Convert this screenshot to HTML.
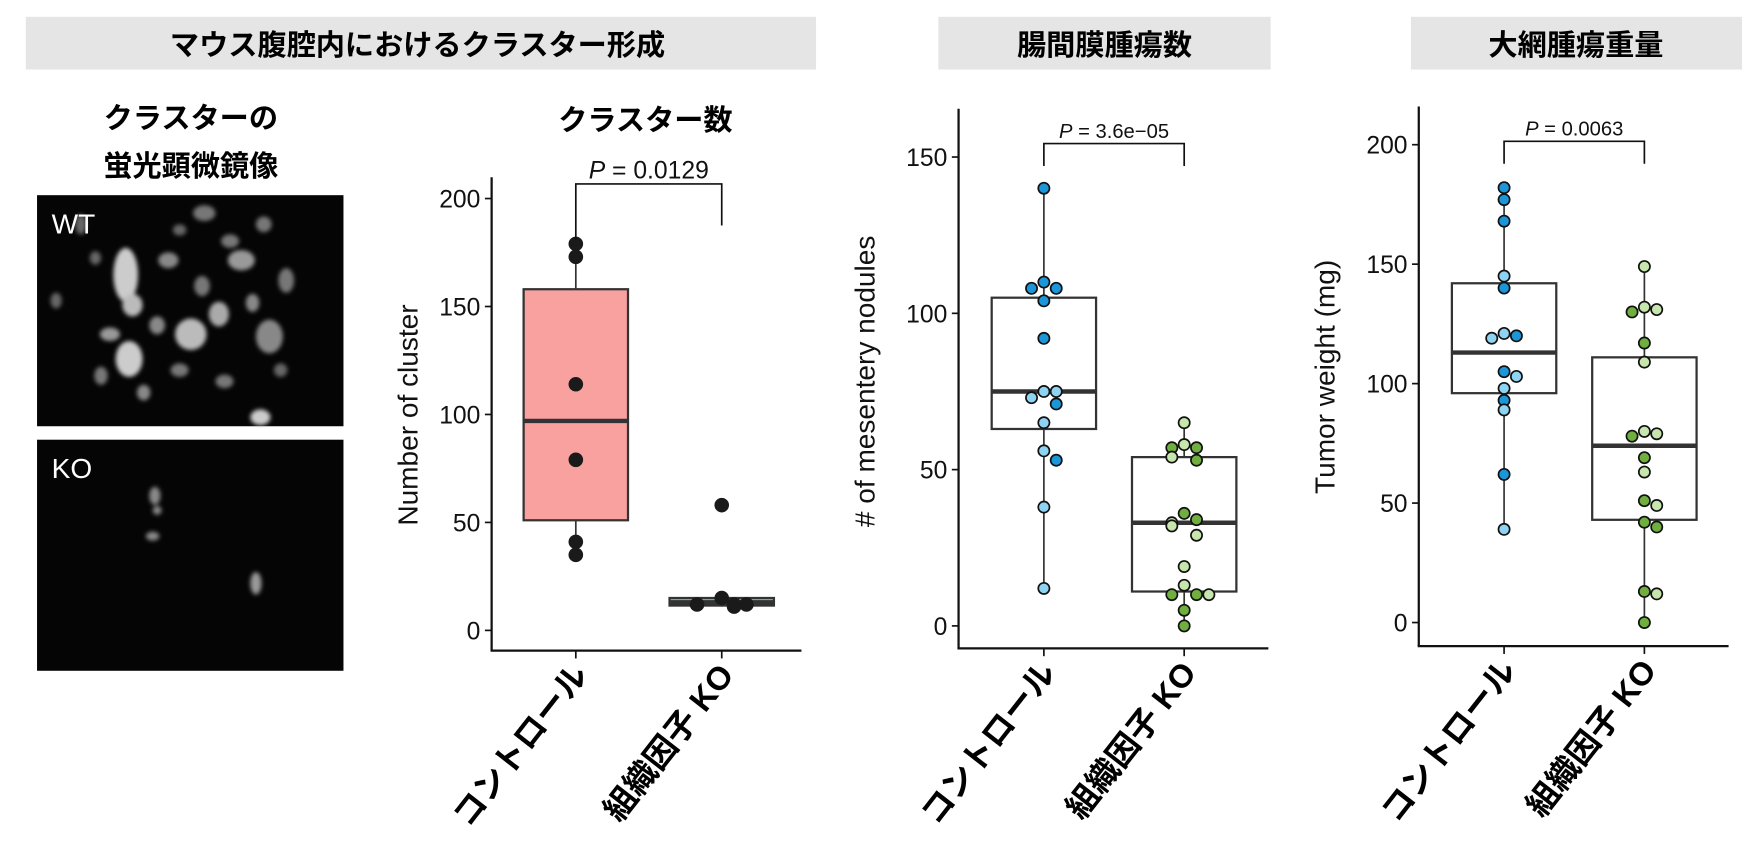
<!DOCTYPE html>
<html><head><meta charset="utf-8"><style>
html,body{margin:0;padding:0;background:#fff;width:1760px;height:848px;overflow:hidden}
svg{display:block}
text{font-family:"Liberation Sans","Noto Sans CJK JP",sans-serif}
.jp{font-family:"Liberation Sans","Noto Sans CJK JP",sans-serif;font-weight:bold}
</style></head><body>
<svg id="fig" width="1760" height="848" viewBox="0 0 1568 756" preserveAspectRatio="none" xmlns="http://www.w3.org/2000/svg">
<defs><filter id="bl"><feGaussianBlur stdDeviation="2"/></filter></defs>
<g><rect x="23" y="15" width="704" height="47" fill="#e5e5e5"/><text class="jp" x="372" y="49" font-size="26" text-anchor="middle">マウス腹腔内におけるクラスター形成</text></g>
<g><rect x="836" y="15" width="296" height="47" fill="#e5e5e5"/><text class="jp" x="984" y="49" font-size="26" text-anchor="middle">腸間膜腫瘍数</text></g>
<g><rect x="1257" y="15" width="295" height="47" fill="#e5e5e5"/><text class="jp" x="1404" y="49" font-size="26" text-anchor="middle">大網腫瘍重量</text></g>
<text class="jp" x="170" y="114" font-size="26" text-anchor="middle">クラスターの</text>
<text class="jp" x="170" y="157" font-size="26" text-anchor="middle">蛍光顕微鏡像</text>
<text class="jp" x="575" y="116" font-size="26" text-anchor="middle">クラスター数</text>
<g><rect x="33" y="174" width="273" height="206" fill="#050505"/>
<g filter="url(#bl)" fill="#aaa">
<ellipse cx="112" cy="245" rx="11" ry="24" fill="#ccc"/><ellipse cx="118" cy="272" rx="9" ry="10" fill="#bbb"/><ellipse cx="170" cy="298" rx="14" ry="14" fill="#bbb"/><ellipse cx="115" cy="320" rx="12" ry="16" fill="#ccc"/><ellipse cx="195" cy="280" rx="9" ry="11"/><ellipse cx="150" cy="232" rx="9" ry="7" fill="#888"/><ellipse cx="215" cy="232" rx="12" ry="9" fill="#999"/><ellipse cx="98" cy="298" rx="9" ry="6" fill="#999"/><ellipse cx="240" cy="300" rx="12" ry="15" fill="#888"/><ellipse cx="232" cy="372" rx="9" ry="7" fill="#ccc"/><ellipse cx="72" cy="200" rx="5" ry="9" fill="#666"/><ellipse cx="182" cy="190" rx="10" ry="7" fill="#777"/><ellipse cx="128" cy="350" rx="6" ry="7" fill="#888"/><ellipse cx="160" cy="330" rx="8" ry="6" fill="#777"/><ellipse cx="255" cy="250" rx="7" ry="11" fill="#777"/><ellipse cx="50" cy="268" rx="5" ry="7" fill="#666"/><ellipse cx="205" cy="215" rx="8" ry="6" fill="#777"/><ellipse cx="140" cy="290" rx="7" ry="8" fill="#888"/><ellipse cx="180" cy="255" rx="7" ry="9" fill="#777"/><ellipse cx="225" cy="270" rx="6" ry="8" fill="#888"/><ellipse cx="90" cy="335" rx="6" ry="8" fill="#777"/><ellipse cx="200" cy="340" rx="8" ry="6" fill="#777"/><ellipse cx="250" cy="330" rx="6" ry="6" fill="#666"/><ellipse cx="160" cy="205" rx="6" ry="5" fill="#666"/><ellipse cx="235" cy="200" rx="7" ry="7" fill="#777"/><ellipse cx="85" cy="230" rx="5" ry="6" fill="#666"/>
</g><text x="46" y="208" font-size="25" fill="#fff">WT</text></g>
<g><rect x="33" y="392" width="273" height="206" fill="#050505"/>
<g filter="url(#bl)" fill="#888"><ellipse cx="138" cy="442" rx="5" ry="8"/><ellipse cx="140" cy="455" rx="4" ry="4"/><ellipse cx="136" cy="478" rx="6" ry="4"/><ellipse cx="228" cy="520" rx="5" ry="10" fill="#999"/></g>
<text x="46" y="426" font-size="25" fill="#fff">KO</text></g>
<g id="charts"></g>
</svg>
<script>
// ---- data ----
const categories = ["コントロール", "組織因子 KO"];
// chart 1: cluster count
const c1Ticks = [0, 50, 100, 150, 200];
const c1Box = [[35, 51, 97, 158, 179], [11, 11.5, 13, 15, 15]];
const c1PtsCtrl = [179, 173, 114, 79, 41, 35];
const c1PtsKO = [58, 15, 12, 11, 12, 12];
// chart 2: mesentery nodules
const c2Ticks = [0, 50, 100, 150];
const c2Box = [[12, 63, 75, 105, 140], [0, 11, 33, 54, 65]];
const c2PtsCtrl = [140, 110, 108, 108, 104, 92, 75, 75, 73, 71, 65, 56, 53, 38, 12];
const c2ShadeCtrl = [1, 1, 1, 1, 1, 1, 0, 0, 0, 1, 0, 0, 1, 0, 0];
const c2PtsKO = [65, 58, 57, 57, 54, 53, 36, 34, 33, 32, 29, 19, 13, 10, 10, 10, 5, 0];
const c2ShadeKO = [0, 0, 1, 1, 0, 1, 1, 1, 0, 0, 0, 0, 0, 1, 1, 0, 1, 1];
// chart 3: tumor weight
const c3Ticks = [0, 50, 100, 150, 200];
const c3Box = [[39, 96, 113, 142, 182], [0, 43, 74, 111, 149]];
const c3PtsCtrl = [182, 177, 168, 145, 140, 121, 120, 119, 105, 103, 98, 93, 89, 62, 39];
const c3ShadeCtrl = [1, 1, 1, 0, 1, 0, 1, 0, 1, 0, 0, 1, 0, 1, 0];
const c3PtsKO = [149, 132, 131, 130, 117, 109, 80, 79, 78, 69, 63, 51, 49, 42, 40, 13, 12, 0];
const c3ShadeKO = [0, 0, 0, 1, 1, 0, 0, 0, 1, 1, 0, 1, 0, 1, 1, 1, 0, 1];

const NS = "http://www.w3.org/2000/svg";
const root = document.getElementById("charts");
function mk(tag, attrs, parent) { const e = document.createElementNS(NS, tag); for (const k in attrs) e.setAttribute(k, attrs[k]); (parent || root).appendChild(e); return e; }

function chart(cfg) {
  const g = mk("g", {});
  
  
  const y = v => cfg.y0 + (v - cfg.v0) * (cfg.y1 - cfg.y0) / (cfg.v1 - cfg.v0);
  const xs = cfg.xs;
  const ya = mk("line", { x1: cfg.ax, y1: cfg.top, x2: cfg.ax, y2: cfg.bot, stroke: "#111", "stroke-width": 2 }, g);
  
  const xa = mk("line", { x1: cfg.ax - 1, y1: cfg.bot, x2: cfg.right, y2: cfg.bot, stroke: "#111", "stroke-width": 2 }, g);
  
  cfg.ticks.forEach(t => {
    mk("line", { x1: cfg.ax - 6, x2: cfg.ax, y1: y(t), y2: y(t), stroke: "#111", "stroke-width": 1.5 }, g);
    const tl = mk("text", { x: cfg.ax - 10, y: y(t) + 8, "font-size": 22, "text-anchor": "end", fill: "#111" }, g);
    tl.textContent = t;
    
  });
  xs.forEach((x, i) => {
    mk("line", { x1: x, x2: x, y1: cfg.bot, y2: cfg.bot + 7, stroke: "#111", "stroke-width": 1.5 }, g);
    const lab = mk("text", { class: "jp", x: 0, y: 0, "font-size": 29, "text-anchor": "end", transform: `translate(${x + 12},${cfg.bot + 22}) rotate(-52)` }, g);
    lab.textContent = categories[i];
    
  });
  const yt = mk("text", { x: 0, y: 0, "font-size": 25, "text-anchor": "middle", transform: `translate(${cfg.ytx},${cfg.yty}) rotate(-90)`, fill: "#111" }, g);
  yt.textContent = cfg.ytitle;
  
  cfg.box.forEach((b, i) => {
    const x = xs[i], hw = 46.5;
    mk("line", { x1: x, x2: x, y1: y(b[0]), y2: y(b[4]), stroke: "#333", "stroke-width": 1.5 }, g);
    const r = mk("rect", { x: x - hw, y: y(b[3]), width: hw * 2, height: y(b[1]) - y(b[3]), fill: cfg.fills[i], stroke: "#333", "stroke-width": 2 }, g);
    
    mk("line", { x1: x - hw, x2: x + hw, y1: y(b[2]), y2: y(b[2]), stroke: "#333", "stroke-width": 4 }, g);
  });
  cfg.pts.forEach((arr, i) => {
    arr.forEach((v, j) => {
      const dup = arr.filter((w, k) => k < j && Math.abs(w - v) < 4).length;
      const dx = dup === 0 ? 0 : (dup % 2 ? 1 : -1) * Math.ceil(dup / 2) * 11;
      const sh = cfg.shades[i] ? cfg.shades[i][j] : 1;
      const c = mk("circle", { cx: xs[i] + dx, cy: y(v), r: cfg.r, fill: cfg.colors[i][sh], stroke: cfg.pstroke, "stroke-width": 1.5 }, g);
      
      
    });
  });
  const by = cfg.brY, bl = cfg.brY + 20;
  mk("path", { d: `M${xs[0]},${bl + (cfg.legL || 0)} V${by} H${xs[1]} V${bl + (cfg.legR || 0)}`, fill: "none", stroke: "#111", "stroke-width": 1.5 }, g);
  const p = mk("text", { x: (xs[0] + xs[1]) / 2, y: by - 5, "font-size": cfg.pfs, "text-anchor": "middle", fill: "#111" }, g);
  p.innerHTML = '<tspan font-style="italic">P</tspan> = ' + cfg.p;
  
}

chart({ name: "cluster-count-chart", ax: 438, top: 158, bot: 580, right: 714, v0: 0, v1: 200, y0: 562, y1: 177, xs: [513, 643],
  ticks: c1Ticks, box: c1Box, pts: [c1PtsCtrl, c1PtsKO], shades: [null, null], colors: [["#1a1a1a", "#1a1a1a"], ["#1a1a1a", "#1a1a1a"]],
  fills: ["#f8a19f", "#5cc6c8"], r: 6.5, pstroke: "none", ytitle: "Number of cluster", ytx: 372, yty: 370, brY: 164, legR: 17, legL: 30, p: "0.0129", pfs: 22 });
chart({ name: "mesentery-nodules-chart", ax: 854, top: 97, bot: 578, right: 1130, v0: 0, v1: 150, y0: 558, y1: 140, xs: [930, 1055],
  ticks: c2Ticks, box: c2Box, pts: [c2PtsCtrl, c2PtsKO], shades: [c2ShadeCtrl, c2ShadeKO], colors: [["#8fd3f3", "#1a96d9"], ["#c7e6ad", "#6fae3f"]],
  fills: ["#fff", "#fff"], r: 5, pstroke: "#111", ytitle: "# of mesentery nodules", ytx: 779, yty: 340, brY: 128, p: "3.6e\u221205", pfs: 18 });
chart({ name: "tumor-weight-chart", ax: 1264, top: 95, bot: 576, right: 1540, v0: 0, v1: 200, y0: 555, y1: 129, xs: [1340, 1465],
  ticks: c3Ticks, box: c3Box, pts: [c3PtsCtrl, c3PtsKO], shades: [c3ShadeCtrl, c3ShadeKO], colors: [["#8fd3f3", "#1a96d9"], ["#c7e6ad", "#6fae3f"]],
  fills: ["#fff", "#fff"], r: 5, pstroke: "#111", ytitle: "Tumor weight (mg)", ytx: 1189, yty: 336, brY: 126, p: "0.0063", pfs: 18 });
</script>
</body></html>
